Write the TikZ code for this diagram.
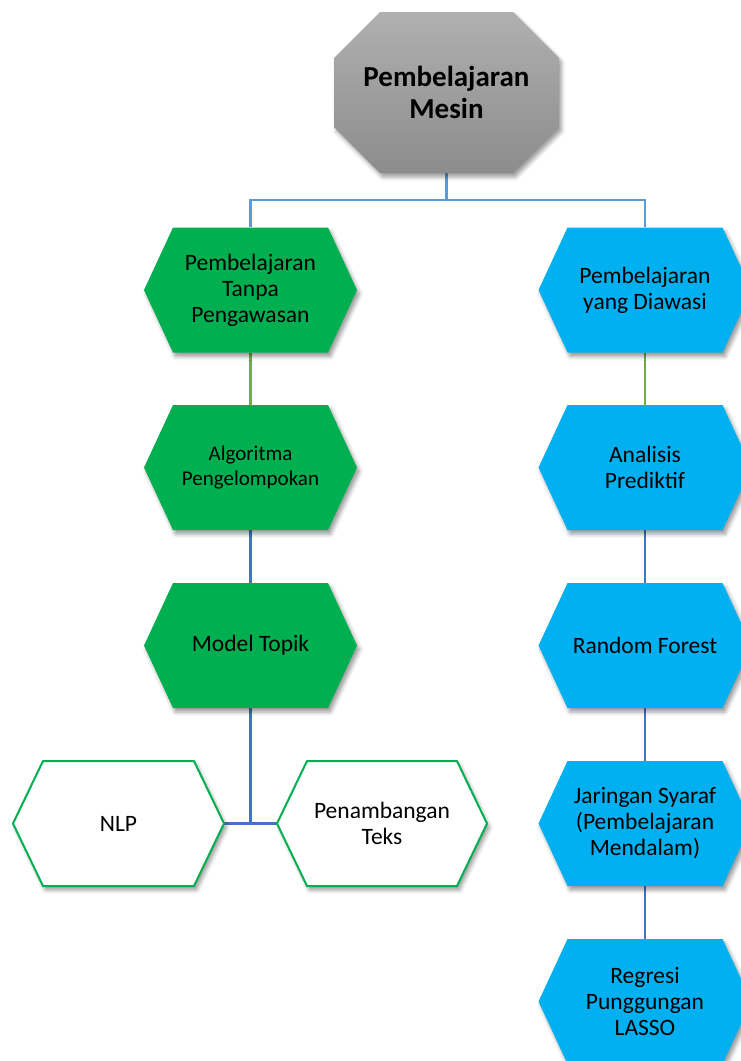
\documentclass[tikz,border=0pt]{standalone}
\usepackage{fontspec}
\setmainfont{Carlito}
\usetikzlibrary{shadows.blur}
\definecolor{octtop}{HTML}{B0B0B0}
\definecolor{octbot}{HTML}{8C8C8C}
\definecolor{hexgreen}{HTML}{00B050}
\definecolor{hexblue}{HTML}{00B0F0}
\definecolor{linkpale}{HTML}{5B9BD5}
\definecolor{linkgreen}{HTML}{70AD47}
\definecolor{linkblue}{HTML}{4472C4}
\pgfdeclarelayer{background}
\pgfsetlayers{background,main}

\tikzset{
  softshadow/.style={blur shadow={shadow xshift=2.5pt, shadow yshift=-4pt,
      shadow opacity=40, shadow blur radius=4pt}},
  greenhex/.style={fill=hexgreen, softshadow},
  bluehex/.style={fill=hexblue, softshadow},
  whitehex/.style={fill=white, draw=hexgreen, line width=2pt, line join=miter, softshadow},
  hexlabel/.style={rectangle, inner sep=0pt, minimum height=125pt, align=center,
      font=\fontsize{23.5}{26}\selectfont},
  link/.style={line width=2.4pt},
}

% hexagon with pointed left/right ends: name, style, cx, cy, half width, cut, text, font
\newcommand{\hexnode}[8]{%
  \path[#2] ({#3-#5},#4) -- ({#3-#5+#6},{#4-62.5}) -- ({#3+#5-#6},{#4-62.5})
     -- ({#3+#5},#4) -- ({#3+#5-#6},{#4+62.5}) -- ({#3-#5+#6},{#4+62.5}) -- cycle;
  \node[hexlabel, minimum width={2*#5}, #8] (#1) at (#3,#4) {#7};
}

\begin{document}
\begin{tikzpicture}[x=1pt, y=-1pt]
  \clip (0,0) rectangle (741,1061);
  \useasboundingbox (0,0) rectangle (741,1061);

  % root octagon
  \path[top color=octtop, bottom color=octbot, softshadow]
    (334,58) -- (380,12) -- (513,12) -- (559,58) -- (559,127) -- (513,173)
    -- (380,173) -- (334,127) -- cycle;
  \node[rectangle, inner sep=0pt, minimum width=225pt, minimum height=161pt,
        align=center, font=\fontsize{29}{31.5}\selectfont\bfseries]
    (root) at (446.5,92.5) {Pembelajaran\\Mesin};

  % unsupervised branch
  \hexnode{unsup}{greenhex}{250.5}{290}{106.5}{29}{Pembelajaran\\Tanpa\\Pengawasan}{}
  \hexnode{cluster}{greenhex}{250.5}{467.5}{106.5}{29}{Algoritma\\Pengelompokan}{font=\fontsize{21}{25}\selectfont}
  \hexnode{topic}{greenhex}{250.5}{645.5}{106.5}{29}{Model Topik}{}
  \hexnode{nlp}{whitehex}{118.5}{823.5}{105.5}{30}{NLP}{}
  \hexnode{textmine}{whitehex}{382}{823.5}{105}{30}{Penambangan\\Teks}{}

  % supervised branch
  \hexnode{sup}{bluehex}{645}{290}{106.5}{29}{Pembelajaran\\yang Diawasi}{}
  \hexnode{predict}{bluehex}{645}{467.5}{106.5}{29}{Analisis\\Prediktif}{}
  \hexnode{forest}{bluehex}{645}{645.5}{106.5}{29}{Random Forest}{}
  \hexnode{neural}{bluehex}{645}{823.5}{106.5}{29}{Jaringan Syaraf\\(Pembelajaran\\Mendalam)}{}
  \hexnode{ridge}{bluehex}{645}{1001.5}{106.5}{29}{Regresi\\Punggungan\\LASSO}{}

  % connectors
  \begin{pgfonlayer}{background}
    \draw[link, linkpale] (root.south) -- ++(0,27) -| (unsup.north);
    \draw[link, linkpale] (root.south) -- ++(0,27) -| (sup.north);
    \draw[link, linkgreen] (unsup.south) -- (cluster.north);
    \draw[link, linkgreen] (sup.south) -- (predict.north);
    \draw[link, linkblue] (cluster.south) -- (topic.north);
    \draw[link, linkblue] (predict.south) -- (forest.north);
    \draw[link, linkblue] (forest.south) -- (neural.north);
    \draw[link, linkblue] (neural.south) -- (ridge.north);
    \draw[link, linkblue] (topic.south) |- (nlp.east);
    \draw[link, linkblue] (nlp.east) -- (textmine.west);
  \end{pgfonlayer}
\end{tikzpicture}
\end{document}
